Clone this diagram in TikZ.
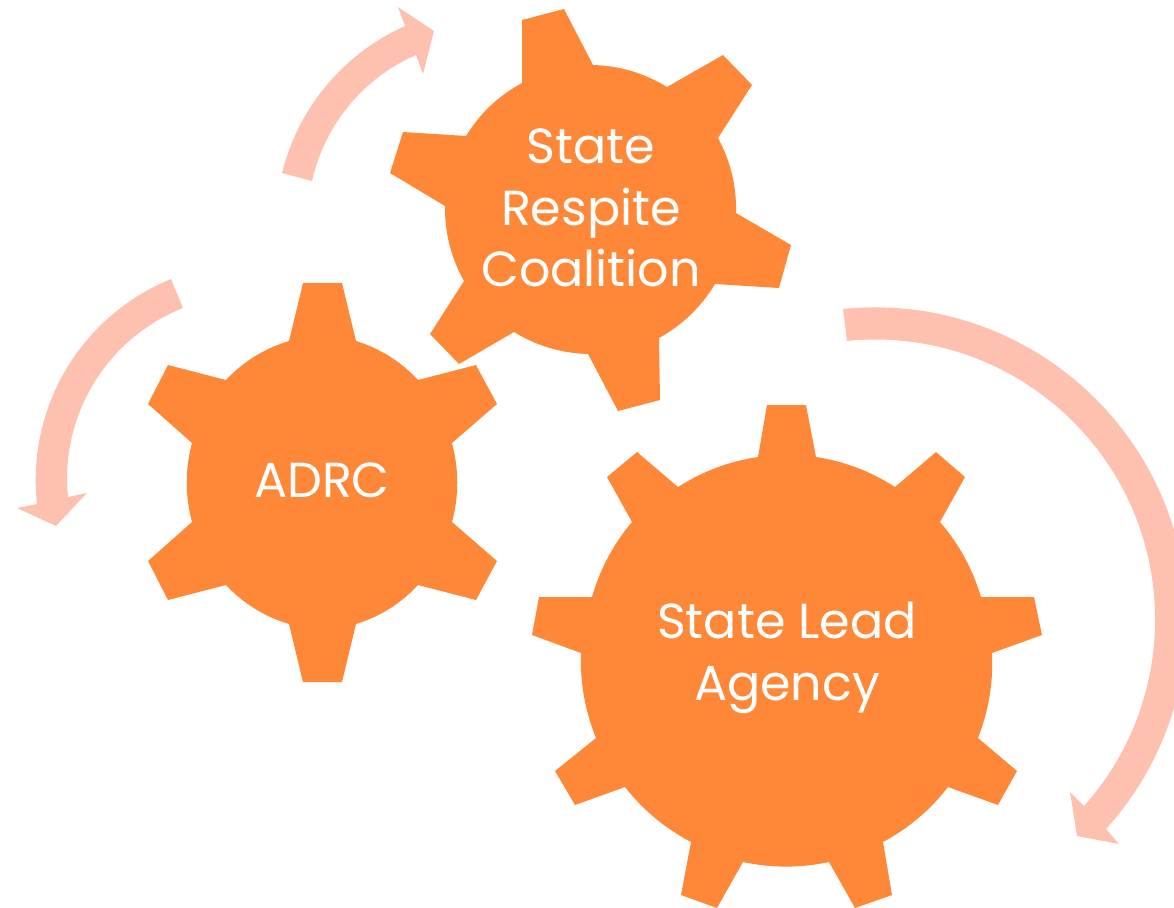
\documentclass[tikz,border=0pt]{standalone}
\usepackage{fontspec}
\setmainfont{Poppins}
\definecolor{gearorange}{RGB}{255,136,56}
\definecolor{arrowpink}{RGB}{254,193,175}
\tikzset{
  gear/.style={fill=gearorange},
  turn/.style={fill=arrowpink},
  rim/.style={bend left=#1,looseness=.88},
  swing/.style 2 args={bend left=#1,looseness=#2},
  swingback/.style 2 args={bend right=#1,looseness=#2},
  label/.style={text=white,align=center,inner sep=0pt,font=\fontsize{28}{35}\selectfont}
}
\begin{document}
\begin{tikzpicture}[x=0.02cm,y=-0.02cm]
  \useasboundingbox[clip] (0,0) rectangle (1174,907);
  \path[turn]
    (843,309) to[swing={48}{1.02}] (1187,620) to[swing={21}{.88}] (1106,829)
    -- (1119,844) -- (1077,836) -- (1070,792) -- (1084,806)
    to[swingback={21}{.88}] (1155,620) to[swingback={48}{1.02}] (847,341) -- cycle;
  \path[turn]
    (282,173) to[swing={26}{.9}] (405,26) -- (398,7) -- (434,31) -- (423,74) -- (416,55)
    to[swingback={27}{.9}] (312,181) -- cycle;
  \path[turn]
    (171,279) to[swingback={37}{.95}] (37,504) -- (17,508) -- (56,526) -- (87,493) -- (68,497)
    to[swing={37}{.95}] (183,308) -- cycle;
  \path[gear]
    (522,20) -- (564,9) -- (593,65) to[rim=15] (667,87)
    -- (723,55) -- (752,85) -- (718,138) to[rim=15] (736,213)
    -- (791,245) -- (779,288) -- (715,284) to[rim=15] (659,338)
    -- (660,400) -- (618,411) -- (588,354) to[rim=15] (514,332)
    -- (459,364) -- (430,334) -- (464,281) to[rim=15] (445,206)
    -- (390,173) -- (403,132) -- (466,136) to[rim=15] (522,83) -- cycle;
  \path[gear]
    (303,283) -- (342,283) -- (356,341) to[rim=15] (418,380)
    -- (476,365) -- (497,404) -- (452,443) to[rim=15] (452,522)
    -- (497,561) -- (476,600) -- (418,585) to[rim=15] (356,624)
    -- (342,682) -- (303,682) -- (289,624) to[rim=15] (226,585)
    -- (168,600) -- (148,561) -- (192,522) to[rim=15] (192,443)
    -- (148,404) -- (168,365) -- (226,380) to[rim=15] (289,341) -- cycle;
  \path[gear]
    (767,405) -- (806,405) -- (816,457) to[rim=12] (895,487)
    -- (936,452) -- (965,477) -- (940,522) to[rim=12] (981,597)
    -- (1034,597) -- (1042,635) -- (992,653) to[rim=12] (978,738)
    -- (1017,771) -- (998,805) -- (948,787) to[rim=12] (883,842)
    -- (892,895) -- (855,908) -- (829,862) to[rim=12] (743,862)
    -- (717,908) -- (681,895) -- (691,842) to[rim=12] (625,787)
    -- (575,805) -- (555,771) -- (596,738) to[rim=12] (581,653)
    -- (532,635) -- (539,597) -- (592,597) to[rim=12] (632,522)
    -- (607,477) -- (637,452) -- (678,487) to[rim=12] (758,457) -- cycle;
  \node[label] (coalition) at (591,208) {State\\Respite\\Coalition};
  \node[label] (adrc) at (322,480) {ADRC};
  \node[label] (agency) at (787,658) {State Lead\\Agency};
\end{tikzpicture}
\end{document}
